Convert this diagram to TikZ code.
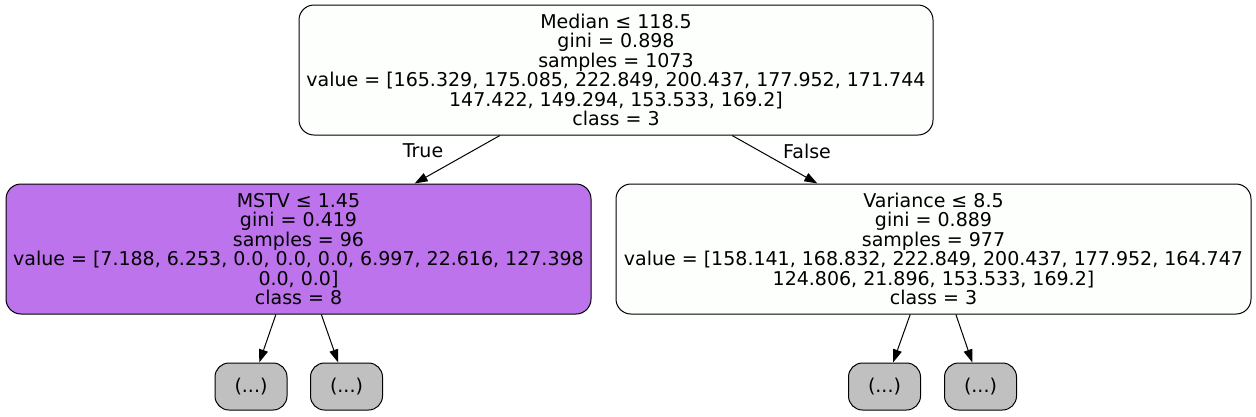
\documentclass[tikz,border=0pt]{standalone}
\usepackage{fontspec}
\setmainfont{DejaVu Sans}
\usetikzlibrary{arrows.meta}

\begin{document}
\begin{tikzpicture}[
  x=1pt, y=-1pt,
  font=\fontsize{19}{19.5}\selectfont,
  split/.style={rectangle, rounded corners=15pt, draw, line width=1pt,
    align=center, inner sep=0pt, minimum height=130pt},
  leaf/.style={rectangle, rounded corners=14pt, draw, line width=1pt,
    fill=leafGray, minimum width=72pt, minimum height=47pt, inner sep=0pt},
  flow/.style={-{Triangle[length=13pt, width=9pt]}, line width=1pt},
  note/.style={inner sep=0pt},
]
\definecolor{rootFill}{HTML}{FDFFFD}
\definecolor{classEight}{HTML}{BC73EB}
\definecolor{leafGray}{HTML}{C0C0C0}
\useasboundingbox (0,0) rectangle (1256,416);

% Root split and its two children.
\node[split, fill=rootFill, minimum width=634pt] (median) at (616,70)
  {Median ≤ 118.5\\gini = 0.898\\samples = 1073\\
   value = [165.329, 175.085, 222.849, 200.437, 177.952, 171.744\\
   147.422, 149.294, 153.533, 169.2]\\class = 3};
\node[split, fill=classEight, minimum width=585pt] (mstv) at (298.5,249)
  {MSTV ≤ 1.45\\gini = 0.419\\samples = 96\\
   value = [7.188, 6.253, 0.0, 0.0, 0.0, 6.997, 22.616, 127.398\\
   0.0, 0.0]\\class = 8};
\node[split, fill=rootFill, minimum width=635pt] (variance) at (933.5,249)
  {Variance ≤ 8.5\\gini = 0.889\\samples = 977\\
   value = [158.141, 168.832, 222.849, 200.437, 177.952, 164.747\\
   124.806, 21.896, 153.533, 169.2]\\class = 3};

% Truncated subtrees.
\node[leaf] (mstvA) at (251,386.5) {(...)};
\node[leaf] (mstvB) at (346.5,386.5) {(...)};
\node[leaf] (varA) at (884.5,386.5) {(...)};
\node[leaf] (varB) at (980.5,386.5) {(...)};

\draw[flow] (median) -- (mstv);
\draw[flow] (median) -- (variance);
\node[note] (truelbl) at (423,151) {True};
\node[note] (falselbl) at (807,151) {False};

\draw[flow] (mstv) -- (mstvA);
\draw[flow] (mstv) -- (mstvB);
\draw[flow] (variance) -- (varA);
\draw[flow] (variance) -- (varB);
\end{tikzpicture}
\end{document}
